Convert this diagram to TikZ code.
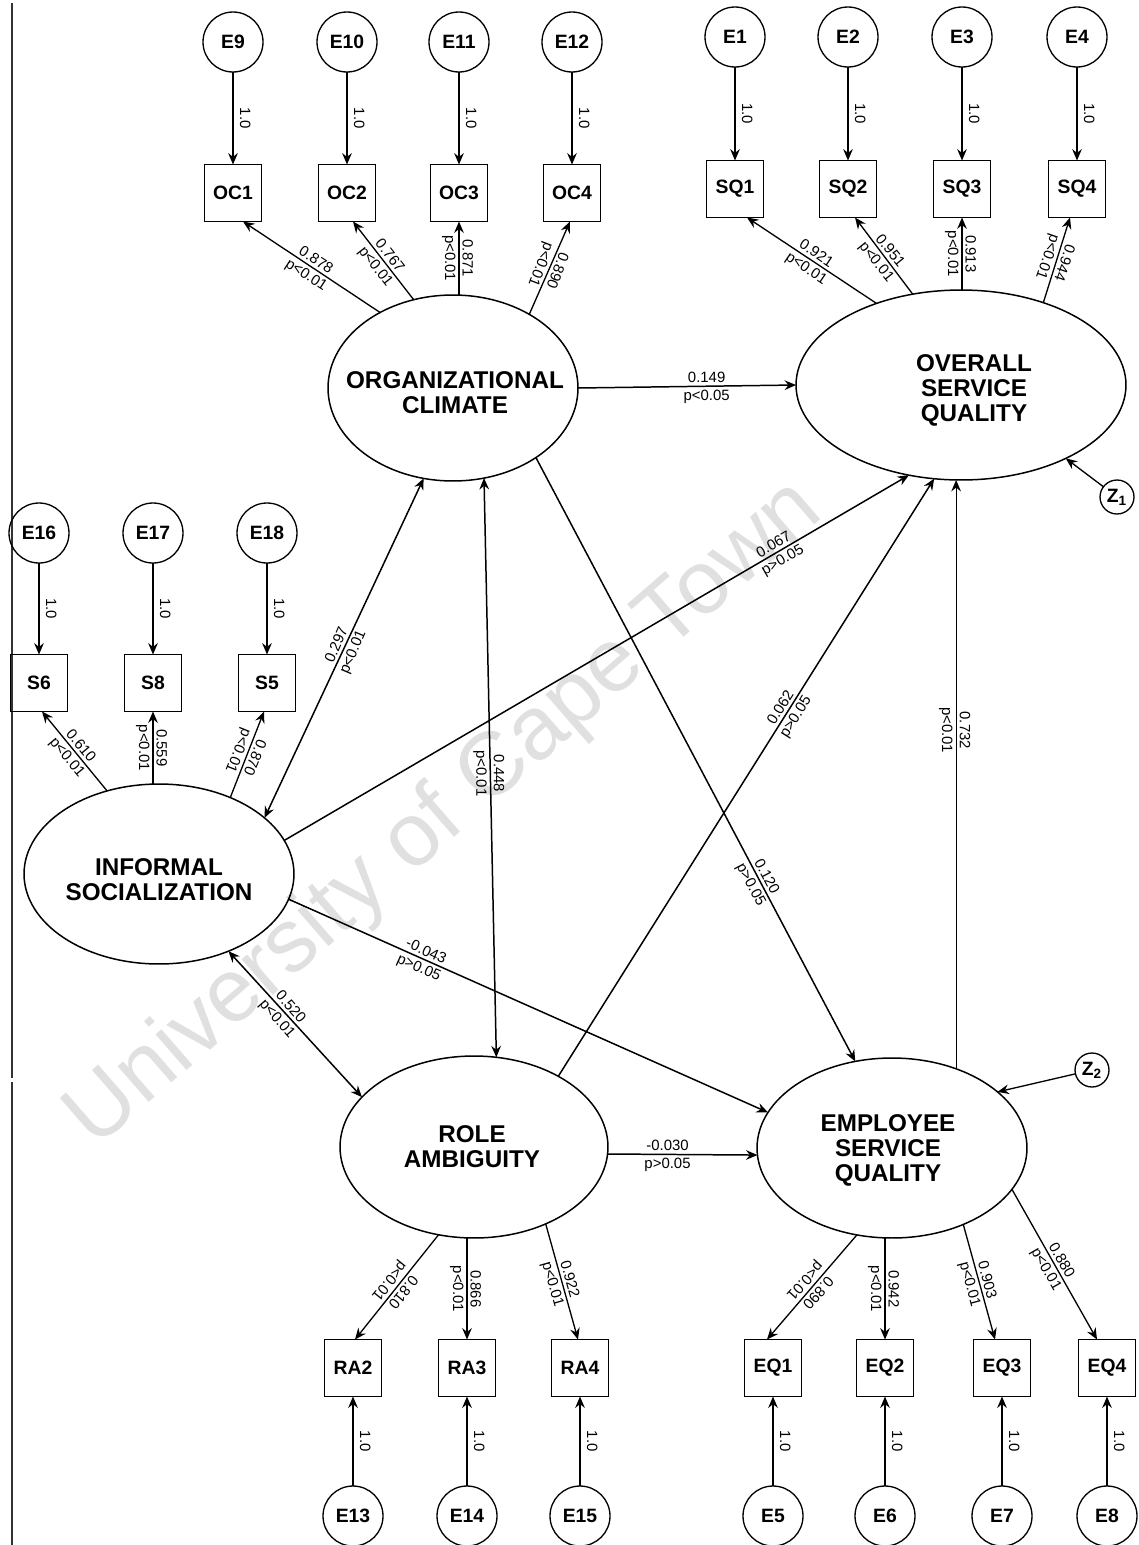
\documentclass[tikz,border=0pt]{standalone}
\usepackage{fontspec}
\setmainfont{Liberation Sans}
\usetikzlibrary{arrows.meta,calc,shapes.geometric}
\begin{document}
\begin{tikzpicture}[x=0.02cm,y=-0.02cm,
  >={Stealth[length=6.5pt,width=5.5pt,inset=2.2pt]},
  every node/.style={inner sep=0pt,outer sep=0pt},
  latent/.style={draw,ellipse,line width=0.85pt},
  ltext/.style={font=\bfseries\fontsize{13.8}{14.2}\selectfont,align=center},
  indic/.style={draw,rectangle,minimum size=1.14cm,line width=0.85pt,font=\bfseries\fontsize{11}{13}\selectfont},
  err/.style={draw,circle,minimum size=1.2cm,line width=0.75pt,font=\bfseries\fontsize{11}{13}\selectfont},
  dist/.style={draw,circle,minimum size=0.68cm,line width=0.75pt,font=\bfseries\fontsize{11}{13}\selectfont},
  spath/.style={->,line width=0.85pt},
  dpath/.style={<->,line width=0.85pt},
  load/.style={->,line width=0.75pt},
  lab/.style={font=\fontsize{8.5}{10}\selectfont,inner sep=2pt},
  one/.style={lab,inner sep=4pt,rotate=-90,above,midway},
]
\useasboundingbox (0,0) rectangle (1139,1545);

% watermark
\node[rotate=41,text=black!12,font=\fontsize{51}{51}\selectfont] (wm) at (445,815) {University of Cape Town};

% page edge
\draw[line width=0.6pt,black!80] (12,3) -- (12,1078);
\draw[line width=0.6pt,black!80] (12,1082) -- (12,1545);

% latent variables
\node[latent,minimum width=5cm,minimum height=3.72cm] (OC) at (453,388) {};
\node[ltext] at (455,393) {ORGANIZATIONAL\\CLIMATE};
\node[latent,minimum width=6.6cm,minimum height=3.8cm] (OSQ) at (961,385) {};
\node[ltext] at (974,390) {OVERALL\\SERVICE\\QUALITY};
\node[latent,minimum width=5.4cm,minimum height=3.6cm] (IS) at (159,874) {};
\node[ltext] at (159,880) {INFORMAL\\SOCIALIZATION};
\node[latent,minimum width=5.36cm,minimum height=3.64cm] (RA) at (474,1147) {};
\node[ltext] at (472,1147) {ROLE\\AMBIGUITY};
\node[latent,minimum width=5.4cm,minimum height=3.6cm] (ESQ) at (892,1148) {};
\node[ltext] at (888,1150) {EMPLOYEE\\SERVICE\\QUALITY};

% organizational climate indicators
\foreach \n/\e/\x in {OC1/E9/233,OC2/E10/347,OC3/E11/459,OC4/E12/572}{
  \node[err] (\e) at (\x,42) {\e};
  \node[indic] (\n) at (\x,193) {\n};
  \draw[load] (\e) -- (\n) node[one]{1.0};
}
% overall service quality indicators
\foreach \n/\e/\x in {SQ1/E1/735,SQ2/E2/848,SQ3/E3/962,SQ4/E4/1077}{
  \node[err] (\e) at (\x,37) {\e};
  \node[indic] (\n) at (\x,189) {\n};
  \draw[load] (\e) -- (\n) node[one]{1.0};
}
% informal socialization indicators
\foreach \n/\e/\x in {S6/E16/39,S8/E17/153,S5/E18/267}{
  \node[err] (\e) at (\x,533) {\e};
  \node[indic] (\n) at (\x,683) {\n};
  \draw[load] (\e) -- (\n) node[one]{1.0};
}
% role ambiguity indicators
\foreach \n/\e/\x in {RA2/E13/353,RA3/E14/467,RA4/E15/580}{
  \node[err] (\e) at (\x,1516) {\e};
  \node[indic] (\n) at (\x,1368) {\n};
  \draw[load] (\e) -- (\n) node[one]{1.0};
}
% employee service quality indicators
\foreach \n/\e/\x in {EQ1/E5/773,EQ2/E6/885,EQ3/E7/1002,EQ4/E8/1107}{
  \node[err] (\e) at (\x,1516) {\e};
  \node[indic] (\n) at (\x,1368) {\n};
  \draw[load] (\e) -- (\n) node[one]{1.0};
}

% disturbances
\node[dist] (Z1) at (1117,497) {Z\textsubscript{1}};
\node[dist] (Z2) at (1092,1070) {Z\textsubscript{2}};
\draw[load] (Z1) -- (OSQ.325);
\draw[load] (Z2) -- (ESQ.28);

% loadings
\draw[load] (OC.134) -- ($(OC1.south)+(10,0)$)
  node[lab,pos=0.5,rotate=-33,above]{0.878} node[lab,pos=0.5,rotate=-33,below]{p<0.01};
\draw[load] (OC.114) -- ($(OC2.south)+(6,0)$)
  node[lab,pos=0.5,rotate=-52,above]{0.767} node[lab,pos=0.5,rotate=-52,below]{p<0.01};
\draw[load] (OC3.south |- OC.north) -- (OC3.south)
  node[lab,pos=0.5,rotate=-90,above]{0.871} node[lab,pos=0.5,rotate=-90,below]{p<0.01};
\draw[load] (OC.44) -- ($(OC4.south)+(-2,0)$)
  node[lab,pos=0.5,rotate=-111,above]{0.890} node[lab,pos=0.5,rotate=-111,below]{p<0.01};

\draw[load] (OSQ.136) -- ($(SQ1.south)+(12,0)$)
  node[lab,pos=0.5,rotate=-34,above]{0.921} node[lab,pos=0.5,rotate=-34,below]{p<0.01};
\draw[load] (OSQ.118) -- ($(SQ2.south)+(7,0)$)
  node[lab,pos=0.5,rotate=-51,above]{0.951} node[lab,pos=0.5,rotate=-51,below]{p<0.01};
\draw[load] (SQ3.south |- OSQ.north) -- (SQ3.south)
  node[lab,pos=0.5,rotate=-90,above]{0.913} node[lab,pos=0.5,rotate=-90,below]{p<0.01};
\draw[load] (OSQ.45) -- ($(SQ4.south)+(-7,0)$)
  node[lab,pos=0.5,rotate=-109,above]{0.944} node[lab,pos=0.5,rotate=-109,below]{p<0.01};

\draw[load] (IS.122) -- ($(S6.south)+(3,0)$)
  node[lab,pos=0.5,rotate=-50,above]{0.610} node[lab,pos=0.5,rotate=-50,below]{p<0.01};
\draw[load] (S8.south |- IS.north) -- (S8.south)
  node[lab,pos=0.5,rotate=-90,above]{0.559} node[lab,pos=0.5,rotate=-90,below]{p<0.01};
\draw[load] (IS.47) -- ($(S5.south)+(-3,0)$)
  node[lab,pos=0.5,rotate=-112,above]{0.870} node[lab,pos=0.5,rotate=-112,below]{p<0.01};

\draw[load] (RA.248) -- ($(RA2.north)+(2,0)$)
  node[lab,pos=0.5,rotate=-129,above]{0.810} node[lab,pos=0.5,rotate=-129,below]{p<0.01};
\draw[load] (RA3.north |- RA.south) -- (RA3.north)
  node[lab,pos=0.5,rotate=-90,above]{0.866} node[lab,pos=0.5,rotate=-90,below]{p<0.01};
\draw[load] (RA.313) -- ($(RA4.north)+(-2,0)$)
  node[lab,pos=0.5,rotate=-74,above]{0.922} node[lab,pos=0.5,rotate=-74,below]{p<0.01};

\draw[load] (ESQ.248) -- ($(EQ1.north)+(-6,0)$)
  node[lab,pos=0.5,rotate=-132,above]{0.890} node[lab,pos=0.5,rotate=-132,below]{p<0.01};
\draw[load] (EQ2.north |- ESQ.south) -- (EQ2.north)
  node[lab,pos=0.5,rotate=-90,above]{0.942} node[lab,pos=0.5,rotate=-90,below]{p<0.01};
\draw[load] (ESQ.313) -- ($(EQ3.north)+(-7,0)$)
  node[lab,pos=0.5,rotate=-75,above]{0.903} node[lab,pos=0.5,rotate=-75,below]{p<0.01};
\draw[load] (ESQ.341) -- ($(EQ4.north)+(-10,0)$)
  node[lab,pos=0.5,rotate=-60,above]{0.880} node[lab,pos=0.5,rotate=-60,below]{p<0.01};

% structural paths
\draw[spath] (OC.east) -- (OSQ.west)
  node[lab,pos=0.59,above]{0.149} node[lab,pos=0.59,below]{p<0.05};
\draw[dpath] (IS.28) -- (OC.252)
  node[lab,pos=0.5,rotate=67,above]{0.297} node[lab,pos=0.5,rotate=67,below]{p<0.01};
\draw[dpath] (OC.289) -- (RA.76)
  node[lab,pos=0.51,rotate=-90,above]{0.448} node[lab,pos=0.51,rotate=-90,below]{p<0.01};
\draw[spath] (OC.320) -- (ESQ.113)
  node[lab,pos=0.7,rotate=-62,above]{0.120} node[lab,pos=0.7,rotate=-62,below]{p>0.05};
\draw[spath] (IS.15) -- (OSQ.240)
  node[lab,pos=0.79,rotate=30,above]{0.067} node[lab,pos=0.79,rotate=30,below]{p>0.05};
\draw[spath] (RA.40) -- (OSQ.254)
  node[lab,pos=0.61,rotate=58,above]{0.062} node[lab,pos=0.61,rotate=58,below]{p>0.05};
\draw[->,line width=0.6pt] (ESQ.51) -- (ESQ.51 |- OSQ.south)
  node[lab,pos=0.575,rotate=-90,above]{0.732} node[lab,pos=0.575,rotate=-90,below]{p<0.01};
\draw[spath] (IS.349) -- (ESQ.164)
  node[lab,pos=0.28,rotate=-24,above]{-0.043} node[lab,pos=0.28,rotate=-24,below]{p>0.05};
\draw[dpath] (IS.312) -- (RA.156)
  node[lab,pos=0.42,rotate=-49,above]{0.520} node[lab,pos=0.42,rotate=-49,below]{p<0.01};
\draw[spath] (RA.357) -- (ESQ.183)
  node[lab,pos=0.4,above]{-0.030} node[lab,pos=0.4,below]{p>0.05};
\end{tikzpicture}
\end{document}
